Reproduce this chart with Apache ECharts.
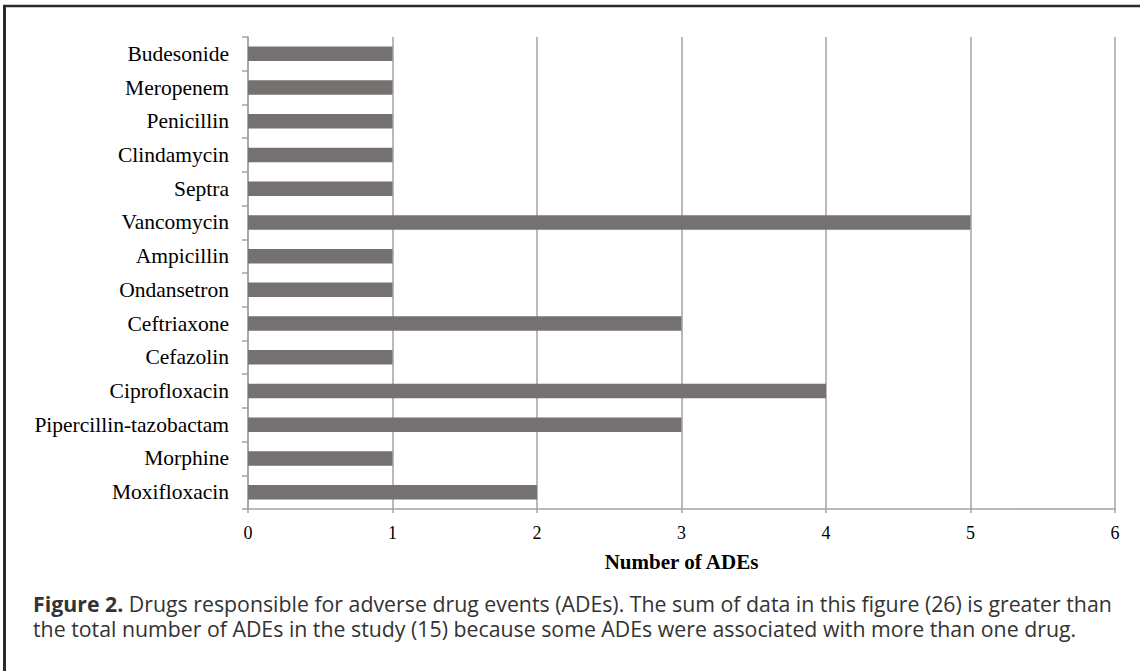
<!DOCTYPE html>
<html>
<head>
<meta charset="utf-8">
<script src="https://cdn.jsdelivr.net/npm/echarts@6/dist/echarts.min.js"></script>
<style>
  html, body { margin: 0; padding: 0; background: #ffffff; }
  #chart { width: 1140px; height: 671px; }
</style>
</head>
<body>
<div id="chart"></div>
<script>
// ---- data ----
const categories = [
  'Budesonide', 'Meropenem', 'Penicillin', 'Clindamycin', 'Septra',
  'Vancomycin', 'Ampicillin', 'Ondansetron', 'Ceftriaxone', 'Cefazolin',
  'Ciprofloxacin', 'Pipercillin-tazobactam', 'Morphine', 'Moxifloxacin'
];
const adeCounts = [1, 1, 1, 1, 1, 5, 1, 1, 3, 1, 4, 3, 1, 2];
const xTicks = [0, 1, 2, 3, 4, 5, 6];
const xAxisTitle = 'Number of ADEs';
const captionBold = 'Figure 2.';
const captionLine1 = ' Drugs responsible for adverse drug events (ADEs). The sum of data in this figure (26) is greater than';
const captionLine2 = 'the total number of ADEs in the study (15) because some ADEs were associated with more than one drug.';

const chart = echarts.init(document.getElementById('chart'), null, { renderer: 'svg' });

const serif = '"Liberation Serif", "Times New Roman", serif';
const sans = '"Open Sans", "Noto Sans", sans-serif';
const gridGray = '#a3a3a3';
const capColor = '#333333';
const capSize = 21.3;

chart.setOption({
  animation: false,
  backgroundColor: '#ffffff',
  title: [
    {
      left: 33,
      top: 591,
      padding: 0,
      text: '{b|' + captionBold + '}{n|' + captionLine1 + '}',
      textStyle: {
        fontWeight: 'normal',
        rich: {
          b: { fontFamily: sans, fontSize: capSize, fontWeight: 'bold', color: capColor, lineHeight: 24 },
          n: { fontFamily: sans, fontSize: capSize, fontWeight: 'normal', color: capColor, lineHeight: 24 }
        }
      }
    },
    {
      left: 33,
      top: 616,
      padding: 0,
      text: captionLine2,
      textStyle: { fontFamily: sans, fontSize: capSize, fontWeight: 'normal', color: capColor, lineHeight: 24 }
    }
  ],
  graphic: [
    { type: 'line', shape: { x1: 3, y1: 6, x2: 1140, y2: 6 }, style: { stroke: '#2b2b2b', lineWidth: 2.5 } },
    { type: 'line', shape: { x1: 4.5, y1: 5, x2: 4.5, y2: 671 }, style: { stroke: '#2b2b2b', lineWidth: 3 } }
  ],
  grid: { left: 248, right: 25, top: 37, bottom: 162, containLabel: false },
  xAxis: {
    type: 'value',
    min: xTicks[0],
    max: xTicks[xTicks.length - 1],
    interval: 1,
    name: xAxisTitle,
    nameLocation: 'middle',
    nameGap: 42,
    nameTextStyle: { fontFamily: serif, fontSize: 21, fontWeight: 'bold', color: '#000000' },
    axisLine: { show: true, lineStyle: { color: gridGray, width: 1.5 } },
    axisTick: { show: true, length: 4, lineStyle: { color: gridGray, width: 1.5 } },
    axisLabel: { fontFamily: serif, fontSize: 18, color: '#000000', margin: 15 },
    splitLine: { show: true, lineStyle: { color: gridGray, width: 1.5 } }
  },
  yAxis: {
    type: 'category',
    data: categories,
    inverse: true,
    axisLine: { show: true, lineStyle: { color: gridGray, width: 1.5 } },
    axisTick: { show: true, length: 6, lineStyle: { color: gridGray, width: 1.5 } },
    axisLabel: { fontFamily: serif, fontSize: 21.5, color: '#000000', margin: 19 },
    splitLine: { show: false }
  },
  series: [{
    type: 'bar',
    data: adeCounts,
    barCategoryGap: '57%',
    itemStyle: { color: '#757171' },
    silent: true
  }]
});
</script>
</body>
</html>
